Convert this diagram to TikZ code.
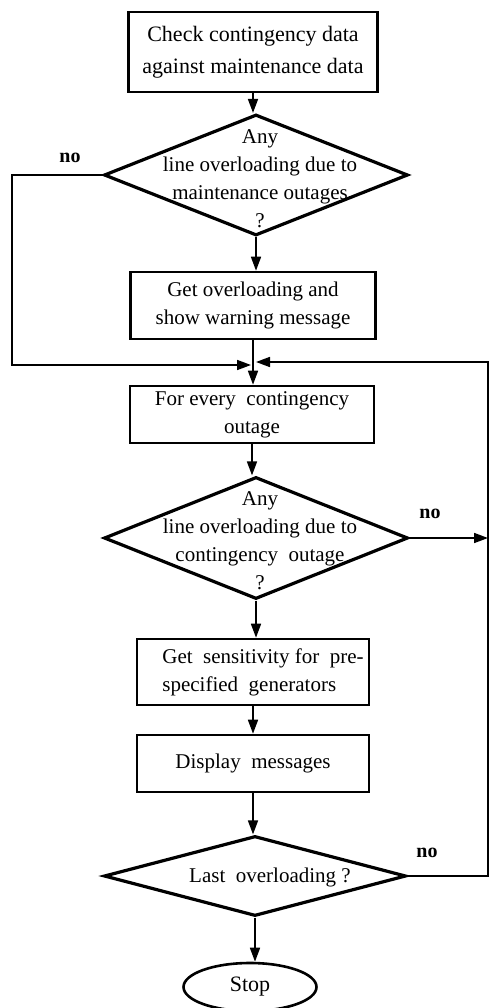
\documentclass[tikz,border=0pt]{standalone}
\usepackage{fontspec}
\setmainfont{Liberation Serif}
\usetikzlibrary{arrows.meta,shapes.geometric}
\begin{document}
\begin{tikzpicture}[x=1pt,y=-1pt,
  font=\fontsize{21}{28}\selectfont,
  box/.style={draw,rectangle,line width=2.6pt,align=center,inner sep=0pt},
  dia/.style={draw,diamond,line width=3.2pt,inner sep=0pt,line join=miter},
  term/.style={draw,ellipse,line width=2.6pt,inner sep=0pt},
  txt/.style={align=center,inner sep=0pt},
  lbl/.style={inner sep=0pt,font=\fontsize{20}{24}\selectfont\bfseries},
  conn/.style={line width=1.7pt},
  flow/.style={conn,-{Triangle[length=14pt,width=10pt]}}
]
\useasboundingbox (0,0) rectangle (490,1008);

% process boxes and decisions down the main column
\node[box,minimum width=249,minimum height=80,font=\fontsize{22}{32}\selectfont] (b1) at (253,52)
  {Check contingency data\\against maintenance data};

\node[dia,minimum width=304,minimum height=121] (d1) at (256,175) {};
\node[txt] (d1t) at (260,179) {Any\\line overloading due to\\maintenance outages\\?};

\node[box,minimum width=245,minimum height=67] (b2) at (253,305.5)
  {Get overloading and\\show warning message};

\node[box,minimum width=244,minimum height=57] (b3) at (252,414.5)
  {For every\ \ contingency\\outage};

\node[dia,minimum width=304,minimum height=122] (d2) at (256,538) {};
\node[txt] (d2t) at (260,541) {Any\\line overloading due to\\contingency\ \ outage\\?};

\node[box,minimum width=232,minimum height=66,align=left] (b4) at (253,672)
  {\hspace*{20pt}Get\ \ sensitivity for\ \ pre-\\\hspace*{20pt}specified\ \ generators};

\node[box,minimum width=232,minimum height=57] (b5) at (253,763.5)
  {Display\ \ messages};

\node[dia,minimum width=302,minimum height=80] (d3) at (255,876) {};
\node[txt] (d3t) at (270,877) {Last\ \ overloading ?};

\node[term,minimum width=133,minimum height=48,font=\fontsize{22}{26}\selectfont] (stop) at (250,987) {Stop};

% "no" labels
\node[lbl] (no1) at (70,158) {no};
\node[lbl] (no2) at (430,514) {no};
\node[lbl] (no3) at (427,853) {no};

% junction above the contingency loop and the return rail
\coordinate (lc) at (12,365);
\coordinate (jL) at (251,365);
\coordinate (jR) at (256,362);
\coordinate (rail) at (488,362);

% main column
\draw[flow] (b1.south) -- (b1.south |- d1.north);
\draw[flow] (d1.south) -- (d1.south |- b2.north);
\draw[flow] (b2.south) -- (b2.south |- b3.north);
\draw[flow] (b3.south) -- (b3.south |- d2.north);
\draw[flow] (d2.south) -- (d2.south |- b4.north);
\draw[flow] (b4.south) -- (b4.south |- b5.north);
\draw[flow] (b5.south) -- (b5.south |- d3.north);
\draw[flow] (d3.south) -- (d3.south |- stop.north);

% "no" branches
\draw[flow] (d1.west) -| (lc) -- (jL);
\draw[flow] (d2.east) -- (d2.east -| rail);
\draw[flow] (d3.east) -| (rail) -- (jR);
\end{tikzpicture}
\end{document}
